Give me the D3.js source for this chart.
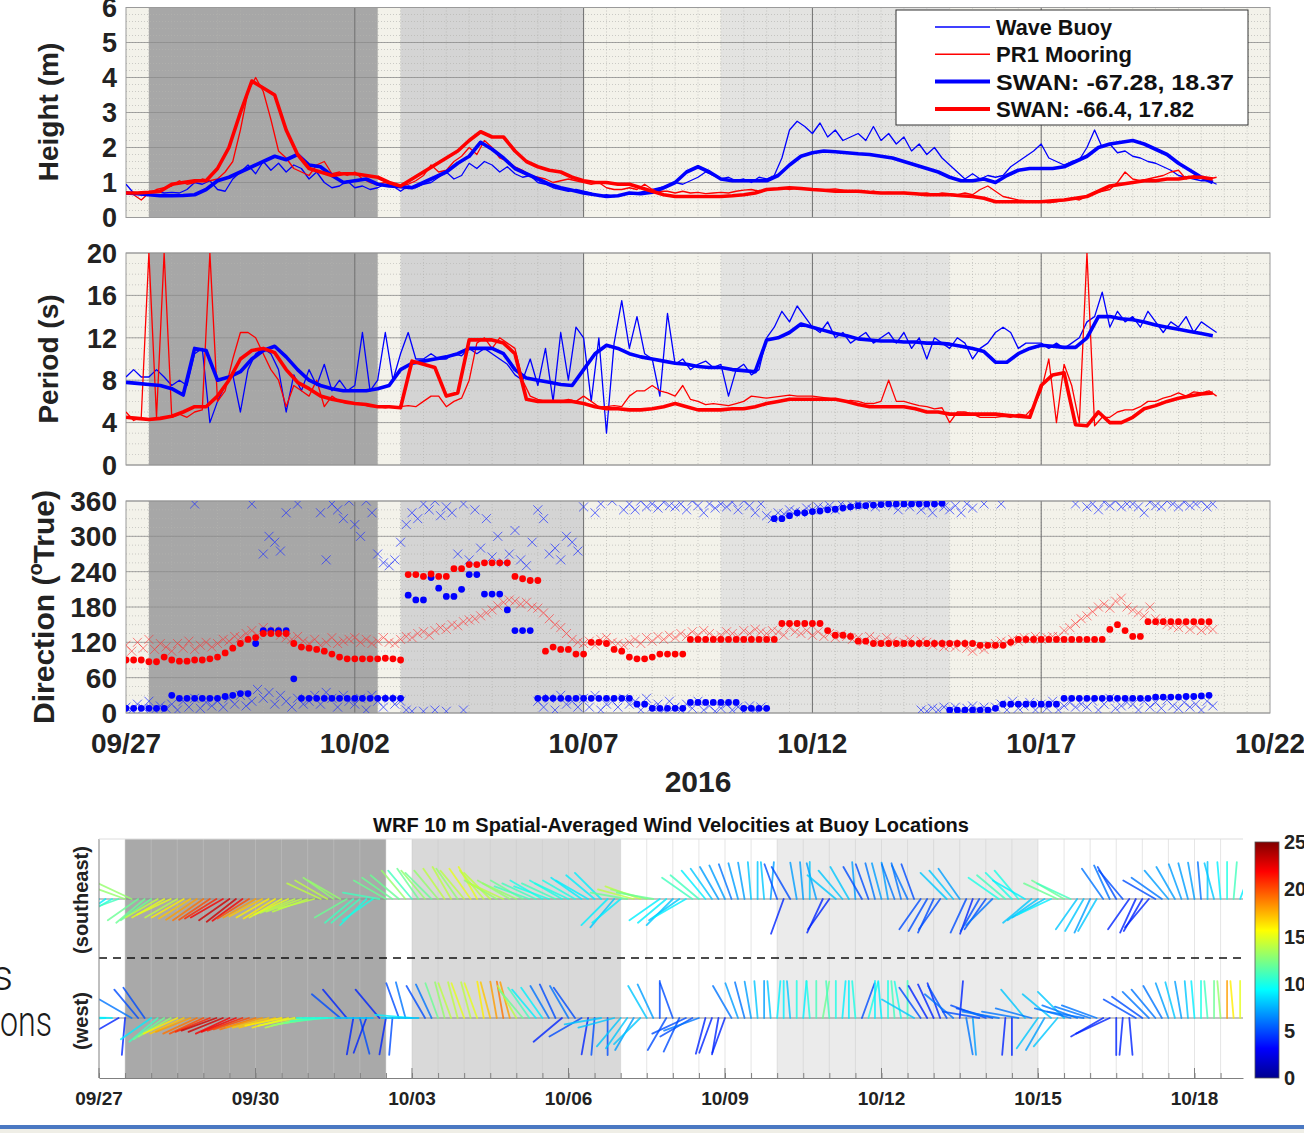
<!DOCTYPE html>
<html>
<head>
<meta charset="utf-8">
<script src="https://cdn.jsdelivr.net/npm/d3@7"></script>
<style>
body { margin: 0; background: #fff; }
svg { display: block; font-family: "Liberation Sans", Arial, Helvetica, sans-serif; }
</style>
</head>
<body>
<svg id="chart" width="1304" height="1133"></svg>
<script>
// ---- data (time in days after 09/27 00:00) ----
const topTickLabels = ["09/27", "10/02", "10/07", "10/12", "10/17", "10/22"];
const botTickLabels = ["09/27", "09/30", "10/03", "10/06", "10/09", "10/12", "10/15", "10/18"];
const legendLabels = ["Wave Buoy", "PR1 Mooring", "SWAN: -67.28, 18.37", "SWAN: -66.4, 17.82"];
const stormSpans = [[0.5, 5.5], [6, 10], [13, 18]];
const colorbarTicks = [0, 5, 10, 15, 20, 25];

// significant wave height (m), 4-hourly observations
const buoyHs = [
    0.95,0.7,0.65,0.7,0.75,0.7, 0.72,0.7,0.8,1.0,0.95,1.05, 0.8,0.75,1.1,1.3,1.5,1.25, 1.6,1.35,1.55,1.3,1.5,1.4,
    1.1,1.3,1.0,0.85,0.9,1.05, 0.85,0.9,0.8,0.85,0.95,0.9, 0.75,0.9,0.85,0.95,1.0,1.15, 1.3,1.1,1.2,1.55,1.4,1.6,
    1.5,1.3,1.45,1.25,1.15,1.2, 1.0,0.95,0.85,0.8,0.75,0.8, 0.75,0.7,0.6,0.65,0.6,0.65, 0.7,0.7,0.75,0.8,0.85,0.9,
    1.0,0.95,1.05,1.15,1.3,1.2, 1.1,1.15,1.05,1.1,1.0,1.15, 1.1,1.2,1.7,2.5,2.75,2.6, 2.4,2.7,2.3,2.5,2.2,2.3,
    2.4,2.2,2.6,2.2,2.4,2.1, 2.3,1.9,2.1,1.8,2.0,1.7, 1.5,1.3,1.1,1.25,1.1,1.2, 1.15,1.2,1.45,1.6,1.75,1.9,
    2.1,1.7,1.6,1.5,1.6,1.65, 2.0,2.5,2.0,2.1,1.85,1.9, 1.75,1.7,1.6,1.55,1.45,1.35, 1.2,1.15,1.1,1.05,1.05,0.95
];
const mooringHs = [
    0.75,0.65,0.5,0.7,0.8,0.85, 0.9,1.05,0.95,1.0,1.1,1.05, 1.1,1.3,1.6,2.5,3.6,4.0, 3.6,2.8,1.9,1.7,1.4,1.3,
    1.2,1.5,1.6,1.25,1.3,1.2, 1.3,1.1,1.0,0.95,1.0,0.9, 0.9,0.95,1.05,1.2,1.5,1.3, 1.35,1.6,1.75,2.0,1.8,2.2,
    2.0,1.7,1.6,1.45,1.35,1.2, 1.15,1.1,1.0,1.05,1.1,1.05, 1.0,0.95,1.0,0.85,0.8,0.8, 0.85,0.8,0.95,0.8,0.75,0.75,
    0.7,0.75,0.7,0.72,0.68,0.7, 0.72,0.7,0.75,0.78,0.8,0.75, 0.8,0.82,0.85,0.8,0.85,0.82, 0.8,0.78,0.8,0.82,0.78,0.75,
    0.75,0.72,0.75,0.7,0.72,0.7, 0.72,0.7,0.68,0.7,0.65,0.7, 0.68,0.65,0.7,0.65,0.8,0.9, 0.75,0.6,0.55,0.5,0.48,0.45,
    0.45,0.42,0.45,0.5,0.55,0.5, 0.6,0.7,0.75,0.8,1.0,1.3, 1.1,1.05,1.1,1.15,1.2,1.3, 1.35,1.1,1.2,1.15,1.1,1.15
];
// SWAN model output, 6-hourly
const swanBlueHs = [
    0.7,0.68,0.65,0.62, 0.62,0.63,0.65,0.8, 1.05,1.15,1.3,1.45, 1.6,1.75,1.65,1.8, 1.5,1.45,1.2,1.0, 1.05,1.1,0.95,0.9,
    0.88,0.85,1.0,1.15, 1.3,1.55,1.75,2.15, 1.95,1.7,1.4,1.25, 1.1,0.95,0.85,0.78, 0.7,0.65,0.6,0.62, 0.7,0.68,0.72,0.85,
    1.0,1.3,1.45,1.3, 1.1,1.05,1.05,1.05, 1.05,1.2,1.5,1.75, 1.85,1.9,1.88,1.85, 1.82,1.8,1.75,1.7, 1.6,1.5,1.4,1.3,
    1.15,1.05,1.05,1.1, 1.0,1.2,1.35,1.4, 1.4,1.4,1.45,1.6, 1.75,2.0,2.1,2.15, 2.2,2.1,1.95,1.8, 1.55,1.35,1.15,1.0
];
const swanRedHs = [
    0.7,0.7,0.72,0.75, 0.95,1.0,1.05,1.05, 1.4,2.0,3.0,3.9, 3.7,3.5,2.5,1.8, 1.4,1.3,1.2,1.25, 1.25,1.2,1.15,1.0,
    0.9,1.1,1.3,1.5, 1.7,1.9,2.2,2.45, 2.3,2.3,1.9,1.6, 1.45,1.35,1.3,1.15, 1.05,1.0,1.0,0.95, 0.95,0.85,0.75,0.65,
    0.6,0.6,0.6,0.6, 0.6,0.62,0.65,0.7, 0.8,0.82,0.85,0.83, 0.8,0.78,0.75,0.75, 0.75,0.72,0.7,0.7, 0.7,0.68,0.65,0.65,
    0.65,0.62,0.6,0.55, 0.45,0.45,0.45,0.45, 0.45,0.48,0.5,0.55, 0.6,0.75,0.9,0.95, 1.0,1.05,1.05,1.1, 1.1,1.15,1.15,1.1
];

// peak period (s)
const buoyTp = [
    8.3,9.0,8.3,8.3,9.0,8.3, 7.5,8.0,7.5,10.5,11.0,4.0, 6.0,7.5,8.5,5.0,9.0,10.5, 11.0,10.5,9.0,5.0,8.5,7.0,
    9.0,7.5,9.5,7.0,8.0,7.0, 7.5,12.5,7.0,8.0,12.5,8.0, 10.5,12.5,10.0,10.0,10.5,10.0, 10.0,10.5,10.3,11.0,10.5,11.0,
    10.5,10.0,9.5,8.5,8.0,10.0, 7.5,11.0,6.0,12.5,8.0,13.0, 12.0,6.0,12.0,3.0,11.5,15.5, 11.0,14.0,10.5,10.0,6.5,14.3,
    9.5,10.0,9.0,9.5,9.8,9.2, 9.5,6.5,9.0,9.5,8.5,9.0, 12.0,13.0,14.5,13.5,15.0,14.0, 13.0,12.5,13.5,12.0,12.5,11.5,
    12.0,12.5,11.5,12.0,12.5,11.5, 12.5,11.0,12.0,10.0,12.0,11.5, 11.0,12.0,11.5,10.0,11.0,11.5, 12.5,13.0,12.5,11.0,11.5,11.5,
    11.5,11.0,11.5,11.0,11.5,12.0, 13.5,14.0,16.3,13.0,14.5,13.5, 14.0,13.0,14.5,13.5,12.5,13.5, 13.0,14.0,12.5,13.5,13.0,12.5
];
const mooringTp = [
    5.0,4.2,4.5,20,4.5,20, 4.5,4.8,4.5,5.0,5.2,20, 6.0,7.0,10.0,12.5,12.5,12.0, 10.5,9.0,8.0,5.5,7.5,7.0,
    6.5,8.0,5.5,6.5,6.0,5.8, 5.8,5.7,5.5,5.5,5.4,5.5, 5.5,5.6,5.5,6.0,6.5,6.5, 5.5,6.0,6.3,8.0,11.5,12.0,
    11.0,12.0,11.5,11.0,8.0,6.5, 6.2,6.0,6.0,6.0,6.2,6.0, 6.5,6.0,5.5,5.5,5.6,5.5, 6.5,7.0,7.0,7.5,7.0,6.8,
    6.5,7.5,6.2,6.0,5.7,5.8, 5.7,5.6,5.8,6.0,6.5,6.4, 6.3,6.4,6.5,6.6,6.5,6.5, 6.5,6.4,6.3,6.2,6.0,6.1,
    6.0,5.8,5.8,6.0,8.0,6.0, 6.0,5.8,5.6,5.5,5.3,5.4, 4.0,5.0,5.0,4.8,4.5,4.5, 4.5,4.6,4.5,4.8,4.7,5.5,
    7.0,10.0,4.0,9.5,7.5,4.0, 20,3.7,4.5,4.5,5.0,5.2, 5.2,5.5,6.0,6.0,6.3,6.5, 6.8,6.5,6.9,6.8,7.0,6.5
];
const swanBlueTp = [
    7.8,7.7,7.6,7.5, 7.2,6.6,11.0,10.8, 8.0,8.3,8.8,10.0, 10.8,11.2,10.2,9.0, 8.0,7.5,7.2,7.0, 7.0,7.0,7.2,7.5,
    9.0,9.6,9.8,10.0, 10.2,10.5,11.0,11.0, 11.0,10.5,9.0,8.2, 8.0,7.8,7.6,7.5, 9.0,10.5,11.3,11.0, 10.5,10.2,10.0,9.8,
    9.6,9.5,9.3,9.2, 9.2,9.0,8.9,8.8, 11.8,12.0,12.5,13.3, 13.0,12.7,12.4,12.2, 11.9,11.8,11.7,11.7, 11.6,11.6,11.5,11.5,
    11.4,11.2,11.0,10.7, 9.7,9.7,10.5,11.0, 11.3,11.2,11.1,11.1, 12.0,14.0,14.0,13.8, 13.7,13.5,13.2,13.0, 12.8,12.6,12.4,12.2
];
const swanRedTp = [
    4.5,4.4,4.3,4.4, 4.6,5.0,5.5,5.5, 6.5,8.0,10.0,10.8, 11.0,10.6,9.0,7.8, 7.2,6.5,6.2,6.0, 5.8,5.7,5.5,5.5,
    5.4,9.8,9.5,9.2, 6.5,6.8,11.8,11.8, 11.8,11.5,10.5,6.2, 6.0,6.0,6.0,6.0, 5.8,5.5,5.3,5.3, 5.2,5.2,5.3,5.5,
    5.8,5.5,5.2,5.2, 5.2,5.3,5.3,5.5, 5.8,6.0,6.2,6.2, 6.2,6.2,6.2,6.0, 5.7,5.5,5.5,5.5, 5.5,5.3,5.0,5.0,
    4.8,4.8,4.8,4.8, 4.8,4.7,4.6,4.5, 7.5,8.5,8.7,3.8, 3.7,5.0,4.0,4.0, 4.5,5.3,5.6,6.0, 6.3,6.5,6.7,6.8
];

// direction (deg True): observations 3-hourly, SWAN 4-hourly
const buoyDirLow = [
    10,5,15,8,20,5,12,8, 15,5,20,10,25,8,18,12, 20,10,25,15,30,12,20,40, 25,35,15,30,20,10,25,15,
    20,30,15,35,25,10,30,20, 15,25,5,30,20,10,25,15, 20,5,3,null,3,null,5,null, 3,null,null,5,null,null,null,null,
    null,null,null,null,null,null,null,null, 20,10,25,5,30,15,20,10, 25,10,30,5,15,20,10,25, 15,20,5,25,10,15,5,20,
    10,5,15,8,20,5,12,3, 8,15,5,10,3,12,5,10, null,null,null,null,null,null,null,null, null,null,null,null,null,null,null,null,
    null,null,null,null,null,null,null,null, null,null,null,5,3,8,5,10, 5,10,3,8,12,5,10,3, 10,15,5,20,8,12,18,5,
    15,8,20,5,12,18,10,15, 10,20,5,15,25,8,12,18, 15,5,20,10,18,8,22,12, 8,18,10,15,5,20,12
];
const buoyDirHigh = [
    null,null,null,null,null,null,null,null, null,null,null,null,355,null,null,null, null,null,null,null,null,null,355,null,
    270,300,290,275,340,null,355,null, null,null,340,260,355,345,330,360, 320,300,360,340,270,255,250,260,
    290,320,340,330,355,345,360,335, 350,340,270,355,260,345,280,330, 265,300,255,270,310,260,250,290,
    345,330,270,280,260,300,290,275, 350,null,340,355,null,360,null,345, 355,345,360,350,355,348,358,352,
    350,355,345,360,352,340,355,348, 355,350,358,345,360,352,340,355, 335,330,340,338,345,342,340,348,
    345,350,348,352,345,355,350,352, 355,352,358,350,355,360,352,345, 355,350,358,345,352,340,355,350,
    345,352,340,355,348,null,355,null, null,355,null,null,null,null,null,null, null,null,null,null,null,null,355,null,
    350,355,345,358,352,360,350,355, 355,350,340,358,352,350,360,355, 350,358,352,355,360,350,355
];
const mooringDir = [
    115,105,120,110,125,108,118,112, 105,118,110,122,108,115,120,112, 118,125,122,130,128,135,140,132,
    145,138,140,132,128,125,130,122, 118,125,115,120,128,118,122,125, 128,120,125,118,122,128,120,118,
    125,130,128,135,138,132,140,145, 142,150,148,155,158,160,165,170, 175,182,188,192,190,185,188,180,
    178,170,160,150,145,135,125,120, 118,122,115,125,128,120,118,115, 120,125,118,128,122,130,125,132,
    128,135,130,138,132,140,135,128, 132,138,135,130,140,135,142,138, 135,140,138,132,145,138,135,140,
    132,138,130,135,128,133,130,125, 128,122,130,125,120,128,122,118, 120,125,118,122,120,115,118,112,
    115,112,118,110,105,112,108,115, 118,122,120,125,122,128,125,130, 125,128,130,130,140,145,152,160,
    165,172,180,185,178,190,195,180, 175,170,165,180,160,155,150,148, 145,150,142,148,140,145,142
];
const swanBlueDir = [
    8,8,8,8,8,8, 30,25,25,25,25,25, 25,28,30,33,33,118, 140,140,140,140,58,25, 25,25,25,25,25,25, 25,25,25,25,25,25,
    25,200,192,192,230,212, 198,198,210,235,235,202, 202,202,175,140,140,140, 25,25,25,25,25,25, 25,25,25,25,25,25,
    25,15,15,8,8,8, 8,8,18,18,18,18, 18,18,18,8,8,8, 8,330,330,335,340,340, 342,343,345,346,348,350,
    352,352,353,354,355,355, 355,355,355,355,355,356, 5,5,5,5,5,5, 8,15,15,15,15,15, 15,15,15,25,25,25,
    25,25,25,25,25,25, 25,25,25,27,27,27, 27,28,28,29,30
];
const swanRedDir = [
    90,90,90,87,87,95, 90,88,88,90,90,92, 95,102,110,118,125,128, 135,135,135,135,118,112, 110,108,105,100,95,92,
    92,92,92,92,93,92, 90,235,235,232,236,232, 232,245,245,252,252,255, 255,255,255,232,228,225, 225,105,112,108,108,100,
    100,120,120,118,108,105, 95,92,92,95,100,100, 100,100,125,125,125,125, 125,125,125,125,125,125, 125,125,152,152,152,152,
    152,152,140,132,132,130, 122,122,118,118,118,118, 118,118,118,118,118,118, 118,118,118,118,115,115, 115,115,120,125,125,125,
    125,125,125,125,125,125, 125,125,125,142,150,140, 130,130,155,155,155,155, 155,155,155,155,155
];

// WRF 10 m wind, 3-hourly: stick direction (deg, clockwise from up) and speed (m/s)
const seDir = [
    230,235,240,250,290,295,235,230, 235,240,240,245,240,240,238,236, 235,236,238,240,235,232,234,238,
    240,242,240,238,240,245,248,250, 250,255,295,300,305,300,240,230, 230,225,235,280,300,305,310,320,
    320,325,320,315,320,325,330,325, 320,325,330,320,315,300,295,300, 295,300,290,295,300,290,295,300,
    295,300,305,300,310,315,225,220, 230,280,285,290,285,280,235,230, 225,235,240,305,310,320,325,330,
    335,340,345,350,355,0,355,5, 340,200,330,350,355,0,345,205, 215,310,320,330,355,330,340,345,
    345,350,340,345,335,340,215,210, 205,215,315,320,325,205,200,210, 215,225,305,310,315,320,300,230,
    235,240,245,295,300,295,215,210, 205,210,325,335,330,320,215,205, 210,220,300,305,320,330,340,345,
    350,355,0,345,355,0,5,20
];
const seSpd = [
    9,9,10,11,13,13,12,12, 12,14,15,15,14,16,17,18, 19,20,21,22,23,23,22,20, 18,17,16,16,15,15,14,14,
    14,14,14,14,13,13,12,11, 11,10,10,11,12,12,12,13, 11,12,13,12,13,14,14,13, 14,15,15,14,14,13,14,13,
    13,12,11,11,10,10,11,10, 10,10,9,9,9,9,9,8, 9,12,14,14,13,12,9,9, 8,8,9,11,11,9,8,7,
    7,6,7,7,8,8,8,7, 5,4,5,7,7,8,7,4, 4,8,8,8,7,5,5,6, 7,7,6,6,6,5,5,5,
    5,5,8,8,7,5,4,5, 5,6,10,11,10,10,9,8, 8,8,9,12,12,11,8,8, 7,8,6,6,5,5,4,4,
    4,4,5,6,7,7,7,7, 7,6,8,8,9,10,11,9
];
const wDir = [
    270,268,272,240,185,300,320,325, 235,230,235,240,245,245,248,245, 245,248,250,248,245,248,250,252,
    252,255,255,255,258,255,258,255, 258,260,262,265,270,310,320,190, 165,200,270,320,190,185,340,345,
    275,270,330,335,340,345,340,345, 340,345,340,350,345,350,350,345, 330,320,325,320,325,330,335,230,
    330,325,240,190,185,260,180,255, 220,215,210,225,330,335,0,210, 340,205,245,240,250,195,200,190,
    200,330,340,345,350,355,0,355, 5,0,355,0,5,355,0,10, 355,0,5,0,355,20,15,0,
    355,0,355,350,0,300,325,330, 335,340,330,310,5,170,175,280, 290,285,280,185,180,280,320,285,
    215,210,310,220,315,285,290,280, 288,290,240,245,180,185,175,300, 305,315,320,330,340,345,350,355,
    355,0,355,0,355,0,355,0
];
const wSpd = [
    9,9,9,4,4,6,5,5, 9,11,12,13,16,17,18,19, 20,21,23,23,22,22,21,20, 19,18,17,17,16,16,15,14,
    13,13,12,11,10,5,4,4, 5,4,8,4,4,5,5,6, 9,8,5,6,12,13,14,14, 15,14,15,16,17,18,19,18,
    14,12,11,9,9,6,5,4, 6,5,5,4,5,8,5,8, 8,8,7,8,8,7,5,5, 5,5,5,5,6,4,4,4,
    4,6,7,6,7,8,7,8, 9,9,8,10,9,10,11,12, 11,10,9,9,10,5,10,9, 9,10,11,10,11,8,5,4,
    4,4,5,6,4,6,7,5, 5,5,6,4,4,6,8,6, 8,7,8,8,8,6,6,6, 6,6,4,4,4,4,4,5,
    5,6,6,6,7,8,7,8, 9,10,11,12,13,18,16,15
];

// ---- helpers ----
const STEP4H = 1 / 6, STEP6H = 1 / 4, STEP3H = 1 / 8;
const toPoints = (vals, step) => vals.map((v, i) => ({ t: i * step, v })).filter(d => d.v !== null);

const BLUE = "#0000ff", RED = "#ff0000";
const topShadeFills = ["#a7a7a7", "#d4d4d4", "#e3e3e1"];
const botShadeFills = ["#a9a9a9", "#d9d9d9", "#ebebeb"];

const svg = d3.select("#chart");
const defs = svg.append("defs");

// ---- top three panels ----
const xTop = d3.scaleLinear().domain([0, 25]).range([126, 1270]);
const plotW = xTop(25) - xTop(0);

const panels = [
    { id: "hs", top: 7.5, bottom: 217.5, domain: [0, 6], major: d3.range(0, 7, 1), minor: d3.range(0.2, 6, 0.2), fs: 27 },
    { id: "tp", top: 253, bottom: 465, domain: [0, 20], major: d3.range(0, 21, 4), minor: d3.range(1, 20, 1), fs: 27 },
    { id: "dir", top: 501, bottom: 713, domain: [0, 360], major: d3.range(0, 361, 60), minor: d3.range(15, 360, 15), fs: 28 }
];

panels.forEach(p => {
    p.y = d3.scaleLinear().domain(p.domain).range([p.bottom, p.top]);

    defs.append("clipPath").attr("id", `clip-${p.id}`)
        .append("rect")
        .attr("x", xTop(0)).attr("y", p.top)
        .attr("width", plotW).attr("height", p.bottom - p.top);

    const g = svg.append("g");

    g.append("rect")
        .attr("x", xTop(0)).attr("y", p.top)
        .attr("width", plotW).attr("height", p.bottom - p.top)
        .attr("fill", "#f3f2ea");

    g.selectAll(".shade").data(stormSpans).join("rect")
        .attr("x", d => xTop(d[0])).attr("y", p.top)
        .attr("width", d => xTop(d[1]) - xTop(d[0]))
        .attr("height", p.bottom - p.top)
        .attr("fill", (d, i) => topShadeFills[i]);

    // dotted minor grid
    g.append("g").selectAll("line").data(p.minor).join("line")
        .attr("x1", xTop(0)).attr("x2", xTop(25))
        .attr("y1", d => p.y(d)).attr("y2", d => p.y(d))
        .attr("stroke", "#b4b4b0").attr("stroke-width", 0.8)
        .attr("stroke-dasharray", "1,2").attr("opacity", 0.8);

    g.append("g").selectAll("line").data(d3.range(0.5, 25, 0.5)).join("line")
        .attr("x1", d => xTop(d)).attr("x2", d => xTop(d))
        .attr("y1", p.top).attr("y2", p.bottom)
        .attr("stroke", "#b4b4b0").attr("stroke-width", 0.8)
        .attr("stroke-dasharray", "1,2").attr("opacity", 0.8);

    // major grid
    g.append("g").selectAll("line").data(p.major).join("line")
        .attr("x1", xTop(0)).attr("x2", xTop(25))
        .attr("y1", d => p.y(d)).attr("y2", d => p.y(d))
        .attr("stroke", "#8a8a8a").attr("stroke-width", 1).attr("opacity", 0.75);

    g.append("g").selectAll("line").data([5, 10, 15, 20]).join("line")
        .attr("x1", d => xTop(d)).attr("x2", d => xTop(d))
        .attr("y1", p.top).attr("y2", p.bottom)
        .attr("stroke", "#6e6e6e").attr("stroke-width", 1);

    g.append("rect")
        .attr("x", xTop(0)).attr("y", p.top)
        .attr("width", plotW).attr("height", p.bottom - p.top)
        .attr("fill", "none").attr("stroke", "#9a9a9a").attr("stroke-width", 1);

    svg.append("g").selectAll("text").data(p.major).join("text")
        .attr("x", 117).attr("y", d => p.y(d))
        .attr("dy", "0.36em")
        .attr("text-anchor", "end")
        .style("font-size", `${p.fs}px`).style("font-weight", "bold").style("fill", "#222")
        .text(d => d);

    p.marks = svg.append("g").attr("clip-path", `url(#clip-${p.id})`);
});

const drawLine = (p, vals, step, colour, width) => {
    const line = d3.line()
        .x(d => xTop(d.t))
        .y(d => p.y(d.v));
    p.marks.append("path")
        .datum(toPoints(vals, step))
        .attr("fill", "none")
        .attr("stroke", colour)
        .attr("stroke-width", width)
        .attr("stroke-linejoin", "round")
        .attr("d", line);
};

const [pHs, pTp, pDir] = panels;

drawLine(pHs, buoyHs, STEP4H, BLUE, 1.3);
drawLine(pHs, mooringHs, STEP4H, RED, 1.3);
drawLine(pHs, swanBlueHs, STEP6H, BLUE, 3.6);
drawLine(pHs, swanRedHs, STEP6H, RED, 3.6);

drawLine(pTp, buoyTp, STEP4H, BLUE, 1.3);
drawLine(pTp, mooringTp, STEP4H, RED, 1.3);
drawLine(pTp, swanBlueTp, STEP6H, BLUE, 3.6);
drawLine(pTp, swanRedTp, STEP6H, RED, 3.6);

const crossPath = "M-4.5,-4.5L4.5,4.5M-4.5,4.5L4.5,-4.5";
const drawCrosses = (vals, colour, alpha) => {
    pDir.marks.append("g").selectAll("path").data(toPoints(vals, STEP3H)).join("path")
        .attr("transform", d => `translate(${xTop(d.t)},${pDir.y(d.v)})`)
        .attr("d", crossPath)
        .attr("fill", "none")
        .attr("stroke", colour)
        .attr("stroke-width", 1)
        .attr("opacity", alpha);
};
const drawDots = (vals, colour) => {
    pDir.marks.append("g").selectAll("circle").data(toPoints(vals, STEP4H)).join("circle")
        .attr("cx", d => xTop(d.t))
        .attr("cy", d => pDir.y(d.v))
        .attr("r", 3.4)
        .attr("fill", colour);
};
drawCrosses(buoyDirLow, "#2233ff", 0.72);
drawCrosses(buoyDirHigh, "#2233ff", 0.72);
drawCrosses(mooringDir, "#ff3030", 0.6);
drawDots(swanBlueDir, BLUE);
drawDots(swanRedDir, RED);

// y labels
const yLabel = (x, y, size) => svg.append("text")
    .attr("transform", `translate(${x},${y}) rotate(-90)`)
    .attr("text-anchor", "middle")
    .style("font-size", `${size}px`).style("font-weight", "bold").style("fill", "#222");

yLabel(58, 112, 28).text("Height (m)");
yLabel(58, 359, 28).text("Period (s)");
const dirLabel = yLabel(54, 607, 30);
dirLabel.append("tspan").text("Direction (");
dirLabel.append("tspan").attr("dy", -12).style("font-size", "20px").text("o");
dirLabel.append("tspan").attr("dy", 12).text("True)");

// x axis of the stack
svg.append("g").selectAll("text").data(topTickLabels).join("text")
    .attr("x", (d, i) => xTop(i * 5))
    .attr("y", 753)
    .attr("text-anchor", "middle")
    .style("font-size", "28px").style("font-weight", "bold").style("fill", "#222")
    .text(d => d);

svg.append("text")
    .attr("x", 698).attr("y", 792)
    .attr("text-anchor", "middle")
    .style("font-size", "30px").style("font-weight", "bold").style("fill", "#222")
    .text("2016");

// legend
const legend = svg.append("g");
legend.append("rect")
    .attr("x", 896).attr("y", 10).attr("width", 352).attr("height", 115)
    .attr("fill", "#fff").attr("stroke", "#333").attr("stroke-width", 1);
const legendColours = [BLUE, RED, BLUE, RED];
const legendWidths = [1.5, 1.5, 4, 4];
const legendTextLen = [116, 136, 238, 198];
legendLabels.forEach((label, i) => {
    const cy = 27 + i * 27.3;
    legend.append("line")
        .attr("x1", 935).attr("x2", 990).attr("y1", cy).attr("y2", cy)
        .attr("stroke", legendColours[i]).attr("stroke-width", legendWidths[i]);
    legend.append("text")
        .attr("x", 996).attr("y", cy).attr("dy", "0.36em")
        .attr("textLength", legendTextLen[i]).attr("lengthAdjust", "spacingAndGlyphs")
        .style("font-size", "22px").style("font-weight", "bold").style("fill", "#111")
        .text(label);
});

// ---- wind stick panel ----
const xBot = d3.scaleLinear().domain([0, 21.93]).range([99, 1243]);
const bot = { top: 839, bottom: 1078 };
const stickLen = 37;
const jet = d3.scaleLinear()
    .domain([0, 3.125, 9.375, 15.625, 21.875, 25])
    .range(["#00008f", "#0000ff", "#00ffff", "#ffff00", "#ff0000", "#800000"])
    .clamp(true);

svg.append("text")
    .attr("x", 671).attr("y", 832)
    .attr("text-anchor", "middle")
    .style("font-size", "20px").style("font-weight", "bold").style("fill", "#111")
    .text("WRF 10 m Spatial-Averaged Wind Velocities at Buoy Locations");

defs.append("clipPath").attr("id", "clip-wind")
    .append("rect")
    .attr("x", xBot(0)).attr("y", bot.top)
    .attr("width", xBot(21.93) - xBot(0)).attr("height", bot.bottom - bot.top);

const wg = svg.append("g");
wg.append("rect")
    .attr("x", xBot(0)).attr("y", bot.top)
    .attr("width", xBot(21.93) - xBot(0)).attr("height", bot.bottom - bot.top)
    .attr("fill", "#fff");
wg.selectAll(".shade").data(stormSpans).join("rect")
    .attr("x", d => xBot(d[0])).attr("y", bot.top)
    .attr("width", d => xBot(d[1]) - xBot(d[0]))
    .attr("height", bot.bottom - bot.top)
    .attr("fill", (d, i) => botShadeFills[i]);

wg.append("g").selectAll("line").data(d3.range(0.5, 21.9, 0.5)).join("line")
    .attr("x1", d => xBot(d)).attr("x2", d => xBot(d))
    .attr("y1", bot.top).attr("y2", bot.bottom)
    .attr("stroke", "#c8c8c8").attr("stroke-width", 1).attr("opacity", 0.45);

const windRows = [
    { base: 899, dir: seDir, spd: seSpd },
    { base: 1018, dir: wDir, spd: wSpd }
];

const sticks = svg.append("g").attr("clip-path", "url(#clip-wind)");
windRows.forEach(row => {
    sticks.append("line")
        .attr("x1", xBot(0)).attr("x2", xBot(21.93))
        .attr("y1", row.base).attr("y2", row.base)
        .attr("stroke", "#8c8c8c").attr("stroke-width", 1.2);

    sticks.append("g").selectAll("line")
        .data(row.dir.map((d, i) => ({ t: i * STEP3H, dir: d, spd: row.spd[i] })))
        .join("line")
        .attr("x1", d => xBot(d.t))
        .attr("y1", row.base)
        .attr("x2", d => xBot(d.t) + stickLen * Math.sin(d.dir * Math.PI / 180))
        .attr("y2", d => row.base - stickLen * Math.cos(d.dir * Math.PI / 180))
        .attr("stroke", d => jet(d.spd))
        .attr("stroke-width", 1.8)
        .attr("stroke-linecap", "round")
        .attr("opacity", 0.8);
});

sticks.append("line")
    .attr("x1", xBot(0)).attr("x2", xBot(21.93))
    .attr("y1", 958).attr("y2", 958)
    .attr("stroke", "#111").attr("stroke-width", 1.6)
    .attr("stroke-dasharray", "8,6");

// axes of the wind panel
const xAxisBot = svg.append("g")
    .attr("transform", `translate(0,${bot.bottom})`)
    .call(d3.axisBottom(xBot)
        .tickValues(d3.range(0, 21.9, 0.5))
        .tickSizeInner(-5).tickSizeOuter(0)
        .tickFormat(""));
xAxisBot.selectAll("line").style("stroke", "#808080");
xAxisBot.selectAll("path").style("stroke", "#808080");

svg.append("g").selectAll("line").data(d3.range(0, 22, 3)).join("line")
    .attr("x1", d => xBot(d)).attr("x2", d => xBot(d))
    .attr("y1", bot.bottom).attr("y2", bot.bottom - 10)
    .attr("stroke", "#808080");

svg.append("line")
    .attr("x1", xBot(0)).attr("x2", xBot(0))
    .attr("y1", bot.top).attr("y2", bot.bottom)
    .attr("stroke", "#808080");
svg.append("line")
    .attr("x1", xBot(0)).attr("x2", xBot(21.93))
    .attr("y1", bot.top).attr("y2", bot.top)
    .attr("stroke", "#dddddd");

svg.append("g").selectAll("text").data(botTickLabels).join("text")
    .attr("x", (d, i) => xBot(i * 3))
    .attr("y", 1105)
    .attr("text-anchor", "middle")
    .style("font-size", "19px").style("font-weight", "bold").style("fill", "#222")
    .text(d => d);

yLabel(88, 900, 20).text("(southeast)");
yLabel(88, 1021, 20).text("(west)");

// colorbar
const grad = defs.append("linearGradient").attr("id", "jet")
    .attr("x1", 0).attr("y1", 1).attr("x2", 0).attr("y2", 0);
jet.domain().forEach(v => grad.append("stop")
    .attr("offset", v / 25)
    .attr("stop-color", jet(v)));

const cbY = d3.scaleLinear().domain([0, 25]).range([1078, 842]);
svg.append("rect")
    .attr("x", 1255).attr("y", cbY(25))
    .attr("width", 24).attr("height", cbY(0) - cbY(25))
    .attr("fill", "url(#jet)")
    .attr("stroke", "#555").attr("stroke-width", 0.8);
svg.append("g").selectAll("text").data(colorbarTicks).join("text")
    .attr("x", 1284).attr("y", d => cbY(d)).attr("dy", "0.36em")
    .style("font-size", "20px").style("font-weight", "bold").style("fill", "#222")
    .text(d => d);

// slide leftovers and footer rule
svg.append("text")
    .attr("x", 13).attr("y", 990).attr("text-anchor", "end")
    .style("font-family", "Roboto").style("font-weight", 300)
    .style("font-size", "42px").style("fill", "#1a1a1a")
    .text("s");
svg.append("text")
    .attr("x", 0).attr("y", 1036)
    .attr("textLength", 52).attr("lengthAdjust", "spacingAndGlyphs")
    .style("font-family", "Roboto").style("font-weight", 300)
    .style("font-size", "42px").style("fill", "#1a1a1a")
    .text("ons");

svg.append("rect").attr("x", 0).attr("y", 1125).attr("width", 1304).attr("height", 4).attr("fill", "#4a78c2");
svg.append("rect").attr("x", 0).attr("y", 1129).attr("width", 1304).attr("height", 4).attr("fill", "#efeee6");
</script>
</body>
</html>
